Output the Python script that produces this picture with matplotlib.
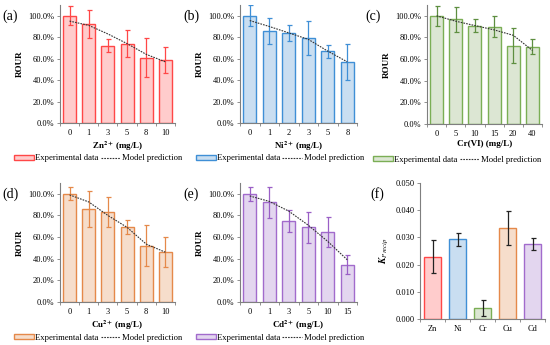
import numpy as np
import matplotlib
matplotlib.use("Agg")
import matplotlib.pyplot as plt
from matplotlib.patches import Patch
from matplotlib.lines import Line2D
from matplotlib.ticker import PercentFormatter, FixedLocator

plt.rcParams['font.family'] = ['Liberation Serif', 'DejaVu Serif']
plt.rcParams['mathtext.fontset'] = 'stix'

# ---- data (fractions of control) ----
zn_conc = ['0', '1', '3', '5', '8', '10']
zn_rour = [1.00, 0.92, 0.72, 0.74, 0.61, 0.585]
zn_err = [0.09, 0.13, 0.06, 0.125, 0.185, 0.12]
zn_model = [0.95, 0.91, 0.83, 0.74, 0.64, 0.57]

ni_conc = ['0', '1', '2', '3', '5', '8']
ni_rour = [1.00, 0.86, 0.84, 0.79, 0.67, 0.57]
ni_err = [0.10, 0.12, 0.075, 0.16, 0.06, 0.17]
ni_model = [0.955, 0.90, 0.84, 0.78, 0.67, 0.57]

cr_conc = ['0', '5', '10', '15', '20', '40']
cr_rour = [1.00, 0.97, 0.91, 0.90, 0.725, 0.715]
cr_err = [0.09, 0.115, 0.063, 0.10, 0.16, 0.07]
cr_model = [1.00, 0.95, 0.91, 0.87, 0.82, 0.68]

cu_conc = ['0', '1', '3', '5', '8', '10']
cu_rour = [1.00, 0.86, 0.83, 0.69, 0.52, 0.46]
cu_err = [0.06, 0.17, 0.14, 0.065, 0.19, 0.14]
cu_model = [0.99, 0.925, 0.80, 0.69, 0.535, 0.46]

cd_conc = ['0', '1', '3', '5', '10', '15']
cd_rour = [1.00, 0.92, 0.75, 0.69, 0.65, 0.345]
cd_err = [0.065, 0.14, 0.10, 0.14, 0.14, 0.09]
cd_model = [0.98, 0.93, 0.84, 0.71, 0.56, 0.39]

metals = ['Zn', 'Ni', 'Cr', 'Cu', 'Cd']
k_precip = [0.0229, 0.0293, 0.0041, 0.0335, 0.0275]
k_err = [0.006, 0.0023, 0.0029, 0.0062, 0.0022]

edge_cols = ['#FF4747', '#3F8FD6', '#7BAE55', '#E5894A', '#A26BCC']
fill_cols = ['#FFCCCC', '#C9DEF1', '#DCE6D3', '#F6DDCB', '#E3D6EF']
err_cols = ['#FF4747', '#3F8FD6', '#5E8F40', '#E5894A', '#9A5FC6']

W, H = 550, 345
fig = plt.figure(figsize=(5.5, 3.45), dpi=100)


def ax_at(l, r, t, b):
    return fig.add_axes([l / W, 1 - b / H, (r - l) / W, (b - t) / H])


def style(ax, n):
    for s in ['top', 'right']:
        ax.spines[s].set_visible(False)
    for s in ['left', 'bottom']:
        ax.spines[s].set_color('#7f7f7f')
        ax.spines[s].set_linewidth(0.8)
    ax.set_xlim(-0.5, n - 0.5)
    ax.tick_params(axis='both', labelsize=6, length=2, width=0.6, color='#7f7f7f', pad=2)
    ax.tick_params(axis='x', length=0, pad=4)
    ax.xaxis.set_minor_locator(FixedLocator(np.arange(-0.5, n, 1.0)))
    ax.tick_params(axis='x', which='minor', length=2, width=0.6, color='#7f7f7f')


panels = [
    ('(a)', (60, 175, 5, 123), zn_conc, zn_rour, zn_err, zn_model, r'Zn$^{\mathbf{2+}}$ (mg/L)', 0, 0.33),
    ('(b)', (240, 357, 5, 123), ni_conc, ni_rour, ni_err, ni_model, r'Ni$^{\mathbf{2+}}$ (mg/L)', 1, 0.34),
    ('(c)', (427, 542, 5, 124), cr_conc, cr_rour, cr_err, cr_model, 'Cr(VI) (mg/L)', 2, 0.26),
    ('(d)', (60, 175, 183, 302), cu_conc, cu_rour, cu_err, cu_model, r'Cu$^{\mathbf{2+}}$ (mg/L)', 3, 0.33),
    ('(e)', (240, 357, 183, 302), cd_conc, cd_rour, cd_err, cd_model, r'Cd$^{\mathbf{2+}}$ (mg/L)', 4, 0.34),
]
label_pos = {'(a)': (2, 16), '(b)': (183, 16), '(c)': (365, 16), '(d)': (2, 194), '(e)': (183, 194)}

for lab, box, conc, rour, err, model, xlab, ci, lx in panels:
    ax = ax_at(*box)
    x = np.arange(len(conc))
    ax.bar(x, rour, width=0.68, color=fill_cols[ci], edgecolor=edge_cols[ci], linewidth=1.0, zorder=2)
    ax.errorbar(x, rour, yerr=err, fmt='none', ecolor=err_cols[ci], elinewidth=0.9, capsize=1.8,
                capthick=0.9, zorder=3)
    ax.plot(x, model, color='#333333', linestyle=(0, (1.5, 1)), linewidth=0.8, zorder=4)
    ax.set_ylim(0, 1.1)
    ax.set_yticks(np.arange(0, 1.01, 0.2))
    ax.yaxis.set_major_formatter(PercentFormatter(1.0, decimals=1))
    ax.set_xticks(x)
    ax.set_xticklabels(conc)
    style(ax, len(conc))
    ax.set_ylabel('ROUR', fontsize=6.5, fontweight='bold', labelpad=3)
    ax.set_xlabel(xlab, fontsize=6.5, fontweight='bold', labelpad=2)
    h = [Patch(facecolor=fill_cols[ci], edgecolor=edge_cols[ci], linewidth=1.0),
         Line2D([], [], color='#333333', linestyle=(0, (1.5, 1)), linewidth=0.8)]
    ax.legend(h, ['Experimental data', 'Model prediction'], loc='center', ncol=2,
              bbox_to_anchor=(lx, -0.30), frameon=False, fontsize=6.2,
              handlelength=2.3, handleheight=0.6, handletextpad=0.15, columnspacing=0.25,
              borderpad=0.1, borderaxespad=0)
    px, py = label_pos[lab]
    fig.text(px / W, 1 - py / H, lab, fontsize=10, ha='left', va='center')

# ---- (f) ----
ax = ax_at(420, 545, 183, 319)
x = np.arange(len(metals))
ax.bar(x, k_precip, width=0.65, color=fill_cols, edgecolor=edge_cols, linewidth=1.0, zorder=2)
ax.errorbar(x, k_precip, yerr=k_err, fmt='none', ecolor='#222222', elinewidth=0.9, capsize=1.8,
            capthick=0.9, zorder=3)
ax.set_ylim(0, 0.05)
ax.set_yticks(np.arange(0, 0.0501, 0.01))
ax.set_yticklabels(['%.3f' % v for v in np.arange(0, 0.0501, 0.01)])
ax.set_xticks(x)
ax.set_xticklabels(metals)
style(ax, len(metals))
ax.set_ylabel(r'$\mathbfit{K}_{\mathit{Precip}}$', fontsize=7, labelpad=3)
fig.text(370 / W, 1 - 194 / H, '(f)', fontsize=10, ha='left', va='center')

fig.savefig('out.png', dpi=100)
